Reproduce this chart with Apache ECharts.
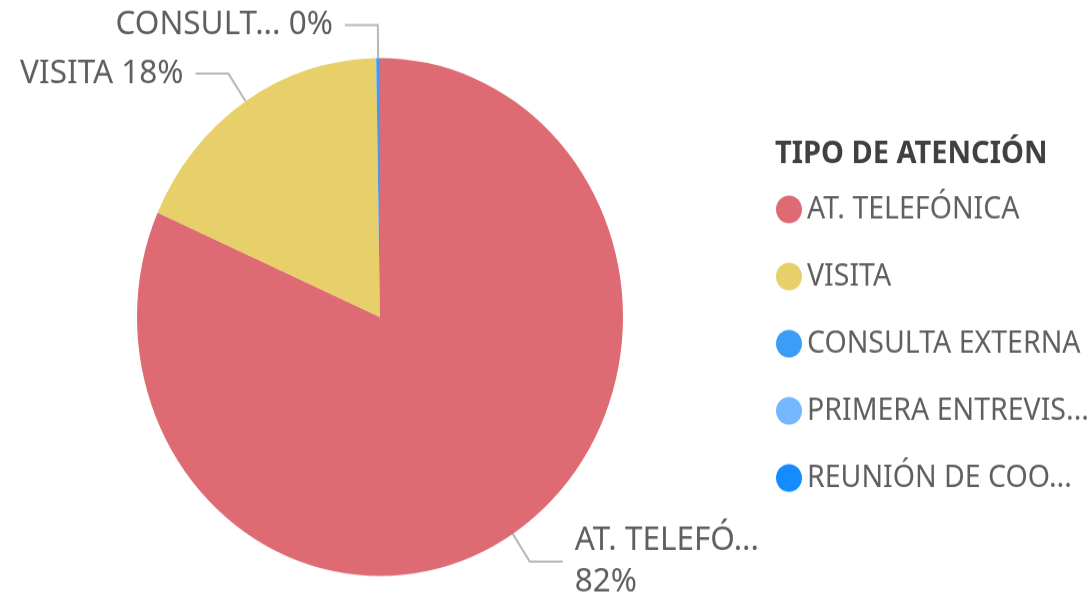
<!DOCTYPE html>
<html>
<head>
<meta charset="utf-8">
<script src="https://cdn.jsdelivr.net/npm/echarts@6/dist/echarts.min.js"></script>
<style>
  html, body { margin: 0; padding: 0; background: #fff; width: 1088px; height: 600px; }
  /* el visual original sale un poco estirado en vertical */
  #pic0 { width: 1088px; height: 563px; transform: scaleY(1.0657); transform-origin: 0 0; }
</style>
</head>
<body>
<div id="pic0"></div>
<script>
// datos del gráfico
var categories = ['AT. TELEFÓNICA', 'VISITA', 'CONSULTA EXTERNA', 'PRIMERA ENTREVIS...', 'REUNIÓN DE COO...'];
var values = [1632, 363, 5, 0, 0];
var labelNames = ['AT. TELEFÓ...', 'VISITA', 'CONSULT...', '', ''];
var colors = ['#DE6A73', '#E7CF6A', '#3C9DF6', '#74B7FF', '#148CFF'];

var font = '"Noto Sans", "Open Sans", sans-serif';

var myChart = echarts.init(document.getElementById('pic0'));

var pieData = [];
for (var i = 0; i < categories.length; i++) {
    var item = { name: categories[i], value: values[i] };
    if (values[i] === 0) {
        // sin etiqueta para los tipos vacíos
        item.label = { show: false };
        item.labelLine = { show: false };
    }
    pieData.push(item);
}

option = {
    animation: false,
    backgroundColor: '#fff',
    color: colors,
    title: {
        text: 'TIPO DE ATENCIÓN',
        left: 775,
        top: 130,
        padding: 0,
        textStyle: {
            color: '#404040',
            fontSize: 29,
            fontWeight: 'bold',
            fontFamily: font
        }
    },
    legend: {
        orient: 'vertical',
        left: 776,
        top: 182,
        padding: 0,
        icon: 'circle',
        itemWidth: 26,
        itemHeight: 26,
        itemGap: 34,
        textStyle: {
            color: '#5f5f5f',
            fontSize: 28.5,
            lineHeight: 26,
            fontFamily: font
        },
        data: categories
    },
    series: [
        {
            type: 'pie',
            center: [380, 297.4],
            radius: 243,
            startAngle: 90,
            clockwise: true,
            avoidLabelOverlap: false,
            label: {
                show: true,
                position: 'outside',
                color: '#5f5f5f',
                fontSize: 31.5,
                lineHeight: 39,
                fontFamily: font,
                distanceToLabelLine: 12,
                formatter: function(p) {
                    var sep = p.dataIndex === 0 ? '\n' : ' ';
                    return labelNames[p.dataIndex] + sep + Math.round(p.percent) + '%';
                }
            },
            labelLine: {
                show: true,
                length: 31,
                length2: 33,
                lineStyle: {
                    color: '#b8b8b8',
                    width: 2
                }
            },
            itemStyle: {
                borderWidth: 0
            },
            data: pieData
        }
    ]
};

myChart.setOption(option);
</script>
</body>
</html>
